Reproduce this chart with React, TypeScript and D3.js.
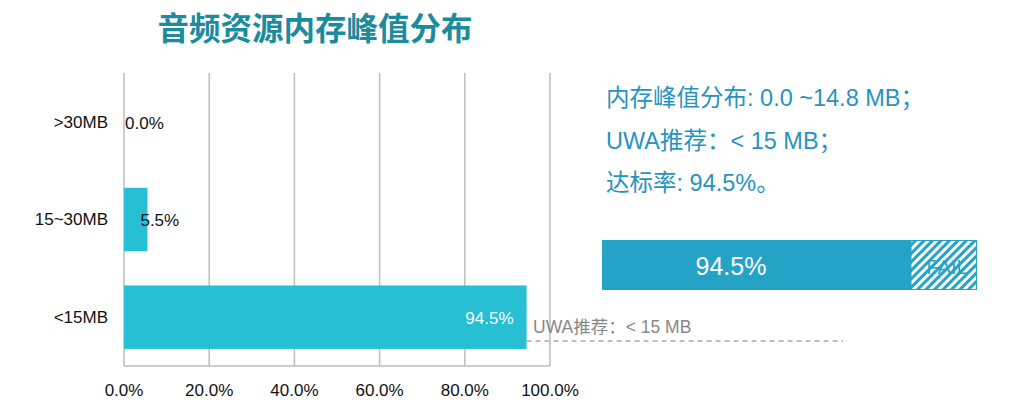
import React from "react";
import * as d3 from "d3";

const categories = [">30MB", "15~30MB", "<15MB"];
const values = [0.0, 5.5, 94.5];
const xTicks = [0, 20, 40, 60, 80, 100];
const title = "音频资源内存峰值分布";
const infoLines = ["内存峰值分布: 0.0 ~14.8 MB；", "UWA推荐：< 15 MB；", "达标率: 94.5%。"];
const passRate = 94.5;
const recommendLabel = "UWA推荐：< 15 MB";

const W = 1027;
const H = 411;
const FONT = "'Liberation Sans', Arial, 'Noto Sans CJK SC', sans-serif";

export default function App() {
  const x = d3.scaleLinear().domain([0, 100]).range([124, 550]);
  const y = d3.scaleBand<string>().domain(categories).range([73, 366]).paddingInner(0.35).paddingOuter(0.175);
  // infographic bar (not to scale in original)
  const bx = d3.scaleLinear().domain([0, passRate, 100]).range([602, 911, 977]);
  const barCol = "#26bfd4";
  const blue = "#25a3c7";
  return (
    <svg width={W} height={H} style={{ position: "absolute", left: 0, top: 0 }} fontFamily={FONT}>
      <defs>
        <pattern id="hatch" patternUnits="userSpaceOnUse" width="6" height="6" patternTransform="rotate(45)">
          <rect width="6" height="6" fill="#fff" />
          <rect width="3" height="6" fill={blue} />
        </pattern>
      </defs>
      <rect width={W} height={H} fill="#fff" />
      <text x={315} y={40} textAnchor="middle" fontSize={31.5} fontWeight="bold" fill="#1b8b9e"
        fontFamily="'Noto Sans CJK SC', sans-serif">{title}</text>

      {xTicks.map((t) => (
        <line key={t} x1={x(t)} x2={x(t)} y1={73} y2={366} stroke="#bdbdbd" strokeWidth={1.5} />
      ))}
      <line x1={x(0)} x2={x(100)} y1={366} y2={366} stroke="#bdbdbd" strokeWidth={1.5} />

      {categories.map((c, i) => (
        <rect key={c} x={x(0)} y={y(c)!} width={x(values[i]) - x(0)} height={y.bandwidth()} fill={barCol} />
      ))}

      {categories.map((c) => (
        <text key={c} x={108} y={y(c)! + y.bandwidth() / 2} dy="0.35em" textAnchor="end" fontSize={17} fill="#111">{c}</text>
      ))}

      {categories.map((c, i) => {
        const inside = values[i] > 50;
        return (
          <text key={c} x={inside ? x(values[i]) - 13 : x(values[i]) + (values[i] > 0 ? -7 : 1)}
            y={y(c)! + y.bandwidth() / 2 + 1} dy="0.35em" textAnchor={inside ? "end" : "start"}
            fontSize={17} fill={inside ? "#fff" : "#111"}>{values[i].toFixed(1) + "%"}</text>
        );
      })}

      {xTicks.map((t) => (
        <text key={t} x={x(t)} y={396} textAnchor="middle" fontSize={17} fill="#111">{t.toFixed(1) + "%"}</text>
      ))}

      <line x1={x(passRate)} x2={843} y1={341} y2={341} stroke="#aaa" strokeWidth={1.5} strokeDasharray="5,4" />
      <text x={533} y={333} fontSize={17.5} fill="#888">{recommendLabel}</text>

      {infoLines.map((l, i) => (
        <text key={i} x={606} y={106 + i * 42.5} fontSize={23.5} fill="#2793bf">{l}</text>
      ))}

      <rect x={bx(0)} y={240} width={bx(passRate) - bx(0)} height={50} fill={blue} />
      <rect x={bx(passRate)} y={240.5} width={bx(100) - bx(passRate) - 0.5} height={49} fill="url(#hatch)" stroke={blue} strokeWidth={1} />
      <text x={731} y={266} dy="0.35em" textAnchor="middle" fontSize={25} fill="#fff">{passRate.toFixed(1) + "%"}</text>
      <text x={(bx(passRate) + bx(100)) / 2 + 3} y={267} dy="0.35em" textAnchor="middle" fontSize={20} fill={blue}>FAIL</text>
    </svg>
  );
}
